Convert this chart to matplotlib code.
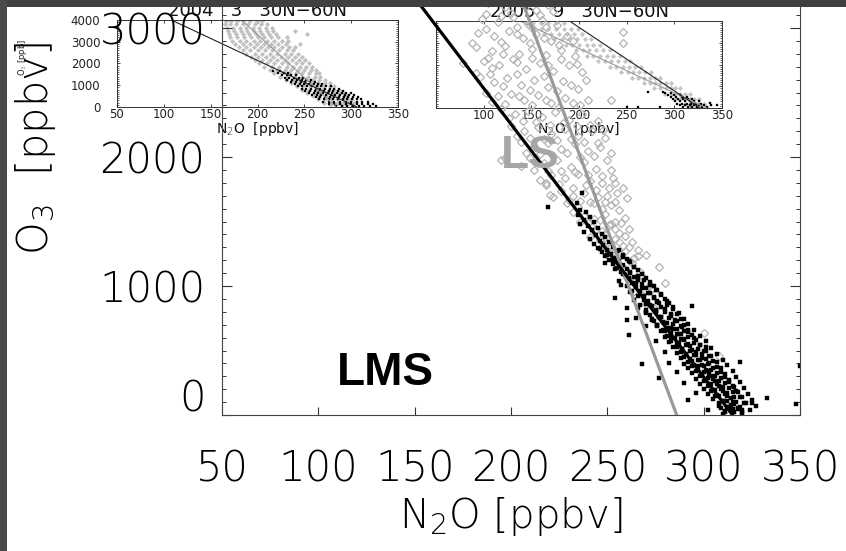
import matplotlib
matplotlib.use("Agg")
import matplotlib.pyplot as plt
from matplotlib.patches import Rectangle
from matplotlib.ticker import MultipleLocator
from matplotlib.transforms import ScaledTranslation

plt.rcParams['mathtext.fontset'] = 'custom'
plt.rcParams['mathtext.rm'] = 'DejaVu Sans:light'
plt.rcParams['mathtext.it'] = 'DejaVu Sans:light'
plt.rcParams['mathtext.default'] = 'rm'

# ---- values: (N2O ppbv, O3 ppbv) ----

# main panel, LMS points (black squares)
main_lms = [
    (237, 1720), (219, 1612), (234, 1645), (236, 1592), (239, 1570), (235, 1548), (241, 1535),
    (238, 1512), (243, 1498), (236, 1480), (240, 1463), (245, 1452), (242, 1431), (238, 1418),
    (247, 1405), (244, 1392), (249, 1377), (241, 1366), (246, 1350), (251, 1342), (243, 1327),
    (248, 1316), (253, 1305), (245, 1296), (250, 1282), (256, 1276), (247, 1262), (252, 1251),
    (258, 1244), (249, 1232), (254, 1220), (260, 1213), (251, 1203), (256, 1190), (262, 1184),
    (253, 1171), (258, 1162), (264, 1150), (255, 1141), (260, 1133), (266, 1122), (257, 1110),
    (262, 1101), (268, 1094), (259, 1082), (264, 1071), (270, 1063), (261, 1052), (266, 1043),
    (272, 1031), (263, 1022), (268, 1012), (257, 1005), (274, 1000), (265, 990), (270, 982),
    (276, 971), (267, 960), (262, 950), (272, 947), (278, 936), (254, 907), (269, 925),
    (274, 912), (280, 902), (264, 894), (271, 884), (276, 873), (282, 865), (294, 845),
    (267, 852), (273, 842), (278, 834), (260, 829), (284, 822), (270, 813), (275, 802),
    (280, 795), (286, 783), (272, 774), (277, 762), (265, 755), (282, 750), (288, 741),
    (260, 736), (274, 730), (279, 718), (284, 709), (290, 700), (270, 692), (276, 688),
    (281, 676), (286, 668), (292, 660), (278, 648), (283, 638), (288, 630), (261, 620),
    (294, 619), (280, 608), (285, 598), (290, 588), (296, 580), (275, 571), (282, 566),
    (287, 556), (292, 548), (298, 539), (301, 530), (284, 525), (289, 515), (294, 506),
    (300, 498), (280, 490), (286, 484), (291, 474), (296, 466), (303, 458), (288, 444),
    (293, 436), (298, 428), (305, 419), (319, 411), (282, 405), (290, 398), (268, 395),
    (295, 390), (300, 382), (307, 372), (350, 380), (292, 362), (297, 352), (302, 344),
    (309, 336), (286, 330), (294, 322), (299, 313), (304, 304), (311, 296), (277, 287),
    (296, 282), (301, 272), (306, 264), (313, 256), (290, 250), (298, 242), (303, 232),
    (308, 224), (316, 216), (300, 205), (305, 195), (310, 186), (318, 178), (296, 170),
    (302, 162), (307, 152), (312, 144), (320, 138), (333, 132), (292, 116), (305, 122),
    (310, 110), (315, 102), (322, 95), (325, 93), (348, 85), (308, 70), (313, 62),
    (318, 52), (302, 39), (311, 30), (316, 24), (320, 14),
    (246, 1288), (255, 1272), (250, 1240), (258, 1228), (253, 1205), (261, 1192), (249, 1180),
    (257, 1156), (264, 1146), (254, 1128), (262, 1112), (258, 1090), (266, 1078), (261, 1060),
    (269, 1050), (256, 1036), (265, 1024), (272, 1008), (260, 998), (268, 985), (275, 970),
    (263, 962), (271, 944), (278, 930), (266, 922), (274, 905), (269, 888), (281, 880),
    (277, 866), (272, 850), (284, 840), (266, 832), (280, 820), (275, 806), (287, 792),
    (270, 788), (283, 770), (278, 758), (290, 745), (273, 740), (286, 726), (281, 712),
    (292, 702), (276, 696), (289, 684), (284, 670), (295, 658), (280, 652), (292, 640),
    (287, 625), (298, 615), (283, 604), (295, 594), (290, 580), (301, 570), (286, 558),
    (298, 546), (293, 532), (304, 520), (289, 512), (301, 500), (296, 486), (307, 474),
    (291, 466), (304, 454), (299, 440), (310, 430), (294, 420), (307, 410), (302, 396),
    (312, 386), (297, 376), (309, 364), (304, 350), (315, 340), (300, 330), (311, 318),
    (306, 306), (317, 296), (302, 286), (313, 274), (308, 262), (319, 252), (304, 240),
    (315, 228), (310, 216), (321, 206), (306, 196), (317, 184), (312, 172), (323, 160),
    (308, 150), (319, 140), (314, 128), (325, 116), (310, 106), (321, 96), (316, 84),
    (327, 72), (312, 62), (318, 48), (324, 40), (314, 30), (320, 20), (310, 10),
    (276, 880), (270, 860), (281, 850), (275, 815), (270, 800), (283, 780), (278, 760),
    (273, 745), (285, 735), (280, 715), (276, 700), (288, 690), (283, 672), (279, 660),
    (290, 650), (286, 630), (281, 615), (292, 605), (288, 588), (283, 575), (295, 560),
    (291, 545), (286, 530), (297, 515), (293, 500), (288, 488), (299, 476), (295, 462),
    (290, 448), (301, 436), (297, 424), (292, 412), (303, 400), (299, 388), (294, 376),
    (305, 364), (301, 350), (296, 338), (307, 328), (303, 314), (298, 300), (309, 288),
    (305, 276), (300, 262), (311, 250), (307, 238), (302, 224), (313, 212), (309, 200),
    (304, 188), (315, 176), (311, 164), (306, 150), (316, 136), (312, 112), (317, 104),
    (308, 90), (314, 78), (319, 65), (309, 55), (315, 45), (320, 35), (311, 25),
]

# main panel, LS points (open grey diamonds)
main_ls = [
    (188, 3190), (197, 3160), (205, 3195), (213, 3140), (219, 3175), (185, 3070), (193, 3045),
    (201, 3085), (209, 3030), (216, 3065), (224, 3020), (183, 2960), (191, 2935), (199, 2975),
    (206, 2920), (213, 2950), (221, 2900), (229, 2940), (258, 2968), (182, 2850), (190, 2825),
    (197, 2860), (204, 2800), (211, 2840), (218, 2790), (226, 2830), (233, 2780), (258, 2883),
    (175, 2728), (186, 2745), (190, 2690), (194, 2710), (201, 2760), (208, 2680), (215, 2730),
    (222, 2670), (230, 2715), (237, 2660), (184, 2620), (191, 2580), (198, 2610), (205, 2560),
    (212, 2600), (219, 2545), (227, 2590), (235, 2530), (187, 2500), (193, 2470), (200, 2490),
    (207, 2440), (214, 2480), (221, 2420), (228, 2460), (236, 2400), (252, 2440), (195, 2370),
    (202, 2335), (209, 2360), (216, 2310), (223, 2350), (230, 2290), (237, 2330), (245, 2280),
    (200, 2240), (207, 2200), (214, 2235), (221, 2180), (228, 2220), (235, 2165), (242, 2205),
    (249, 2150), (205, 2120), (212, 2085), (219, 2110), (226, 2060), (233, 2100), (240, 2045),
    (246, 2080), (252, 2030), (197, 1992), (195, 1976), (210, 1990), (217, 1950), (224, 1980),
    (231, 1925), (238, 1960), (244, 1910), (252, 1900), (205, 1930), (215, 1821), (218, 1797),
    (221, 1860), (228, 1835), (235, 1870), (241, 1815), (247, 1850), (254, 1800), (222, 1690),
    (220, 1705), (226, 1740), (232, 1760), (238, 1720), (244, 1745), (250, 1700), (258, 1760),
    (260, 1682), (229, 1640), (235, 1610), (241, 1655), (247, 1600), (252, 1630), (256, 1590),
    (232, 1573), (238, 1540), (243, 1520), (249, 1555), (254, 1500), (259, 1530), (241, 1380),
    (242, 1455), (247, 1430), (251, 1470), (256, 1410), (261, 1445), (246, 1355), (250, 1330),
    (254, 1365), (258, 1310), (263, 1340), (266, 1279), (251, 1260), (255, 1230), (259, 1270),
    (264, 1215), (270, 1240), (255, 1160), (259, 1130), (263, 1175), (267, 1110), (277, 1147),
    (260, 1060), (264, 1030), (268, 1075), (272, 1010), (280, 1020), (264, 960), (268, 930),
    (273, 975), (270, 860), (274, 830), (300, 636), (308, 457),
    (192, 3210), (200, 3120), (208, 3170), (215, 3100), (222, 3130), (187, 3110), (195, 3095),
    (203, 3010), (211, 3000), (218, 3010), (187, 2990), (195, 2890), (203, 2950), (210, 2880),
    (217, 2920), (225, 2870), (232, 2900), (180, 2880), (188, 2770), (196, 2800), (203, 2740),
    (211, 2770), (219, 2710), (226, 2760), (234, 2720), (182, 2650), (189, 2640), (196, 2550),
    (203, 2640), (210, 2520), (217, 2630), (224, 2510), (231, 2560), (239, 2600), (190, 2430),
    (197, 2410), (204, 2470), (211, 2400), (218, 2440), (225, 2390), (232, 2420), (240, 2440),
    (199, 2300), (206, 2280), (213, 2270), (220, 2250), (227, 2260), (234, 2240), (241, 2250),
    (248, 2210), (203, 2160), (210, 2150), (217, 2140), (224, 2130), (231, 2140), (238, 2120),
    (245, 2110), (208, 2030), (215, 2020), (222, 2010), (229, 2030), (236, 2000), (243, 2010),
    (250, 1980), (212, 1900), (219, 1890), (226, 1890), (233, 1880), (240, 1860), (247, 1800),
    (253, 1840), (218, 1780), (225, 1790), (232, 1700), (239, 1780), (245, 1690), (251, 1760),
    (255, 1720), (230, 1670), (236, 1660), (243, 1640), (249, 1650), (254, 1650), (236, 1500),
    (240, 1490), (246, 1510), (252, 1480), (257, 1490), (244, 1440), (249, 1400), (254, 1440),
    (259, 1390), (248, 1320), (252, 1300), (256, 1340), (261, 1300), (253, 1200), (257, 1250),
    (262, 1190), (266, 1230),
]

# main panel fit lines
lms_fit_n2o = [111, 315]
lms_fit_o3 = [4000, 0]
ls_fit_n2o = [186, 286]
ls_fit_o3 = [4000, 0]

# inset 2004/3: rows of (O3, [N2O ...])
in1_ls_rows = [
    (3950, [166, 172, 178, 185, 192, 199, 205]),
    (3800, [165, 171, 177, 184, 190, 197, 204, 210]),
    (3650, [167, 174, 181, 188, 195, 202, 209, 216]),
    (3500, [168, 175, 182, 189, 196, 203, 210, 217, 240]),
    (3350, [170, 177, 184, 191, 198, 205, 212, 220, 253]),
    (3200, [171, 178, 186, 193, 200, 207, 214, 222, 232]),
    (3050, [173, 181, 188, 196, 203, 210, 218, 226, 233]),
    (2900, [176, 184, 192, 199, 207, 214, 222, 230, 245]),
    (2750, [180, 188, 196, 204, 211, 218, 226, 234, 240]),
    (2600, [184, 192, 200, 208, 215, 223, 231, 238]),
    (2450, [188, 197, 205, 213, 221, 229, 236, 243]),
    (2300, [193, 201, 209, 217, 225, 233, 240, 247]),
    (2150, [197, 205, 213, 221, 229, 237, 244, 251]),
    (2000, [202, 210, 218, 226, 233, 241, 248, 255]),
    (1850, [207, 215, 223, 231, 238, 245, 252, 258]),
    (1700, [213, 221, 229, 236, 243, 250, 257, 262]),
    (1550, [218, 226, 234, 241, 248, 255, 262, 266]),
    (1400, [224, 232, 240, 247, 254, 261, 267]),
    (1250, [230, 238, 245, 252, 259, 266, 272]),
    (1100, [236, 244, 251, 258, 265, 272, 277]),
    (950, [242, 249, 256, 263, 270, 277, 282]),
    (800, [248, 255, 262, 269, 276, 282, 287]),
    (650, [253, 260, 267, 274, 281, 287, 291]),
    (500, [259, 266, 273, 280, 286, 292, 296]),
    (350, [265, 272, 279, 285, 291, 297, 301]),
    (200, [271, 278, 285, 291, 297, 303]),
    (80, [277, 284, 290, 296, 302]),
]
in1_lms_rows = [
    (1650, [217, 224]),
    (1550, [222, 228, 233]),
    (1450, [226, 231, 236, 241]),
    (1350, [229, 234, 239, 244, 249]),
    (1250, [232, 237, 242, 247, 252, 257]),
    (1150, [236, 241, 246, 251, 256, 261]),
    (1050, [240, 245, 250, 255, 260, 265, 269]),
    (950, [243, 248, 253, 258, 263, 268, 273, 278]),
    (850, [247, 252, 257, 262, 267, 272, 277, 282, 287]),
    (750, [251, 256, 261, 266, 271, 276, 281, 286, 291]),
    (650, [255, 260, 265, 270, 275, 280, 285, 290, 295, 300]),
    (550, [258, 263, 268, 273, 278, 283, 288, 293, 298, 303]),
    (450, [262, 267, 272, 277, 282, 287, 292, 297, 302, 307]),
    (350, [266, 271, 276, 281, 286, 291, 296, 301, 306, 311]),
    (250, [270, 276, 282, 288, 294, 300, 306, 312, 318]),
    (150, [276, 282, 288, 294, 300, 306, 312, 318, 323]),
    (60, [284, 290, 296, 302, 308, 314, 320, 327]),
]
in1_lms_fit_n2o = [108, 306]
in1_lms_fit_o3 = [4000, 0]
in1_ls_fit_n2o = [183, 284]
in1_ls_fit_o3 = [4000, 0]

# inset 2005/9
in2_ls_rows = [
    (3900, [145, 152, 160, 168, 176, 184]),
    (3650, [152, 160, 168, 176, 184, 192, 199]),
    (3400, [163, 171, 179, 187, 195, 203]),
    (3150, [174, 182, 190, 198, 206, 213]),
    (2900, [186, 193, 200, 208, 215, 222]),
    (2650, [197, 204, 211, 218, 225, 232]),
    (2400, [208, 215, 222, 229, 236, 243]),
    (2150, [220, 227, 234, 241, 248, 254]),
    (1900, [232, 239, 246, 252, 259, 265]),
    (1650, [244, 251, 257, 263, 269, 275]),
    (1400, [256, 262, 268, 274, 280, 285]),
    (1150, [268, 274, 280, 285, 291, 296]),
    (900, [279, 285, 291, 296, 301, 306]),
    (650, [290, 296, 301, 306, 311, 316]),
    (400, [301, 306, 311, 316, 321, 326]),
    (180, [311, 316, 321, 326, 331]),
    (60, [318, 323, 328, 333]),
]
in2_lms_rows = [
    (740, [272, 288]),
    (700, [290, 297]),
    (600, [293, 300, 306]),
    (500, [296, 302, 308, 313]),
    (400, [299, 304, 309, 314, 319]),
    (300, [301, 306, 311, 316, 321, 326]),
    (230, [337]),
    (200, [303, 308, 313, 318, 323, 328]),
    (130, [345]),
    (120, [306, 311, 316, 321, 326, 331, 338]),
    (50, [250, 262, 285, 309, 314, 319, 324, 329, 334]),
]
in2_lms_fit_n2o = [190, 327]
in2_lms_fit_o3 = [4000, 0]
in2_ls_fit_n2o = [138, 334]
in2_ls_fit_o3 = [4000, 0]

x_ticks = [50, 100, 150, 200, 250, 300, 350]
y_ticks = [0, 1000, 2000, 3000, 4000]


def unpack_rows(rows):
    xs = [x for y, row in rows for x in row]
    ys = [y for y, row in rows for _ in row]
    return xs, ys


def setup_inset(ax, title, xlabels, ylabels):
    ax.set_xlim(50, 350)
    ax.set_ylim(0, 4000)
    ax.set_xticks(x_ticks)
    ax.set_xticklabels(xlabels)
    ax.set_yticks(y_ticks)
    ax.set_yticklabels(ylabels)
    ax.yaxis.set_minor_locator(MultipleLocator(100))
    ax.tick_params(axis='both', which='both', direction='in', top=True, right=True,
                   labelsize=8.5, colors='#222222')
    ax.tick_params(axis='both', which='major', length=2.5, width=0.6)
    ax.tick_params(axis='y', which='minor', length=1.2, width=0.5)
    ax.tick_params(axis='x', which='major', pad=0.5)
    ax.tick_params(axis='y', which='major', pad=12)
    for sp in ax.spines.values():
        sp.set_linewidth(0.7)
        sp.set_color('#333333')
    ax.text(0.5, 1.0 + 9 / 87, title, transform=ax.transAxes, ha='center', va='center',
            fontsize=13, color='#111111')
    ax.text(0.5, -21.5 / 87, 'N$_2$O  [ppbv]', transform=ax.transAxes, ha='center',
            va='center', fontsize=10, color='#111111')


fig = plt.figure(figsize=(8.46, 5.51), dpi=100)
fig.patch.set_facecolor('white')

# --- inset 1 ---
ax1 = fig.add_axes([117 / 846, 1 - 107 / 551, 281 / 846, 87 / 551])
ax1.set_zorder(1)
xs, ys = unpack_rows(in1_ls_rows)
ax1.plot(xs, ys, ls='none', marker='D', ms=2.3, mfc='#c0c0c0', mec='#c0c0c0', mew=0.3)
xs, ys = unpack_rows(in1_lms_rows)
ax1.plot(xs, ys, ls='none', marker='s', ms=1.8, mfc='black', mec='black', mew=0.2)
ax1.plot(in1_ls_fit_n2o, in1_ls_fit_o3, color='#999999', lw=0.8)
ax1.plot(in1_lms_fit_n2o, in1_lms_fit_o3, color='#222222', lw=0.8)
setup_inset(ax1, '2004   3   30N\u221260N', [str(t) for t in x_ticks], [str(t) for t in y_ticks])
fig.text(22 / 846, 1 - 57 / 551, 'O$_3$ [ppb]', rotation=90, ha='center', va='center',
         fontsize=6, color='#222222')

# --- inset 2 ---
ax2 = fig.add_axes([436 / 846, 1 - 108 / 551, 286 / 846, 87 / 551])
ax2.set_zorder(1)
xs, ys = unpack_rows(in2_ls_rows)
ax2.plot(xs, ys, ls='none', marker='D', ms=2.3, mfc='#c4c4c4', mec='#c4c4c4', mew=0.3)
xs, ys = unpack_rows(in2_lms_rows)
ax2.plot(xs, ys, ls='none', marker='s', ms=1.8, mfc='black', mec='black', mew=0.2)
ax2.plot(in2_ls_fit_n2o, in2_ls_fit_o3, color='#999999', lw=0.8)
ax2.plot(in2_lms_fit_n2o, in2_lms_fit_o3, color='#222222', lw=0.8)
setup_inset(ax2, '2005   9   30N\u221260N', [''] + [str(t) for t in x_ticks[1:]],
            [''] * len(y_ticks))

# --- main panel (drawn over the insets, top runs off the figure) ---
ax = fig.add_axes([222 / 846, 136 / 551, 578 / 846, 516 / 551])
ax.set_zorder(3)
ax.patch.set_alpha(0)
ax.plot([p[0] for p in main_ls], [p[1] for p in main_ls], ls='none', marker='D', ms=4.3,
        mfc='none', mec='#b4b4b4', mew=0.9)
ax.plot([p[0] for p in main_lms], [p[1] for p in main_lms], ls='none', marker='s', ms=2.9,
        mfc='black', mec='black', mew=0.3)
ax.plot(ls_fit_n2o, ls_fit_o3, color='#999999', lw=2.3)
ax.plot(lms_fit_n2o, lms_fit_o3, color='black', lw=2.3)
ax.set_xlim(50, 350)
ax.set_ylim(0, 4000)
ax.set_xticks(x_ticks)
ax.set_yticks(y_ticks)
ax.yaxis.set_minor_locator(MultipleLocator(100))
ax.tick_params(axis='both', which='both', direction='in', top=True, right=True,
               labelsize=30, colors='#333333', labelcolor='black')
ax.tick_params(axis='y', which='major', length=7, width=0.8, pad=12)
ax.tick_params(axis='y', which='minor', length=3, width=0.7)
ax.tick_params(axis='x', which='major', length=6, width=0.8, pad=24)
for lbl in ax.get_xticklabels() + ax.get_yticklabels():
    lbl.set_fontweight('light')
for sp in ax.spines.values():
    sp.set_linewidth(0.8)
    sp.set_color('#444444')

# the "0" label sits a little higher than its tick
zero_lbl = ax.yaxis.get_major_ticks()[0].label1
zero_lbl.set_transform(zero_lbl.get_transform() + ScaledTranslation(0, 0.2, fig.dpi_scale_trans))

ax.text(134.6, 322, 'LMS', fontsize=33, fontweight='bold', family='Liberation Sans',
        ha='center', va='center', color='black')
ax.text(210, 2010, 'LS', fontsize=33, fontweight='bold', family='Liberation Sans',
        ha='center', va='center', color='#a6a6a6')

fig.text(511 / 846, 1 - 517 / 551, 'N$_2$O [ppbv]', ha='center', va='center', fontsize=29,
         fontweight='light')
fig.text(36 / 846, 1 - 148 / 551, 'O$_3$  [ppbv]', rotation=90, ha='center', va='center',
         fontsize=30, fontweight='light')

# dark frame strips at the top and left edge
fig.add_artist(Rectangle((0, 1 - 7 / 551), 1, 7 / 551, transform=fig.transFigure,
                         facecolor='#404040', edgecolor='none', zorder=10))
fig.add_artist(Rectangle((0, 0), 7 / 846, 1, transform=fig.transFigure,
                         facecolor='#4a4a4a', edgecolor='none', zorder=10))

fig.savefig('out.png', dpi=100)
